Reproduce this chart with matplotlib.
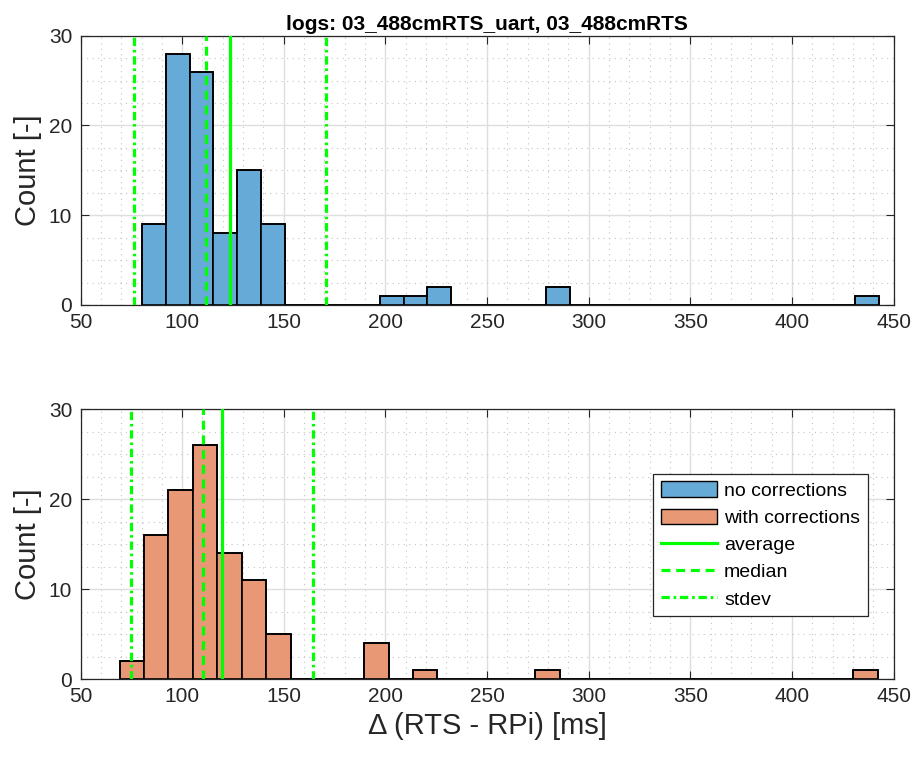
import numpy as np
import matplotlib
matplotlib.use("Agg")
import matplotlib.pyplot as plt
from matplotlib.patches import Patch
from matplotlib.lines import Line2D
from matplotlib.ticker import MultipleLocator

plt.rcParams['font.family'] = ['Liberation Sans', 'DejaVu Sans']

# histogram data (31 bins each)
n_bins = 31
raw_range = (80.3, 442.8)
raw_counts = [9, 28, 26, 8, 15, 9, 0, 0, 0, 0, 1, 1, 2, 0, 0, 0, 0, 2,
              0, 0, 0, 0, 0, 0, 0, 0, 0, 0, 0, 0, 1]
corr_range = (69.2, 442.1)
corr_counts = [2, 16, 21, 26, 14, 11, 5, 0, 0, 0, 4, 0, 1, 0, 0, 0, 0, 1,
               0, 0, 0, 0, 0, 0, 0, 0, 0, 0, 0, 0, 1]

# statistics
raw_mean, raw_median, raw_std = 123.4, 111.6, 47.3
corr_mean, corr_median, corr_std = 119.6, 110.3, 44.8

title = "logs: 03_488cmRTS_uart, 03_488cmRTS"
labels = ["no corrections", "with corrections", "average", "median", "stdev"]

blue = (0.4, 0.668, 0.845)
orange = (0.91, 0.595, 0.459)
green = "#00ff00"
dash = (0, (2.8, 1.8))
dashdot = (0, (2.6, 1.2, 0.8, 1.2))
txt = "#262626"

fig = plt.figure(figsize=(9.17, 7.57), dpi=100)
ax1 = fig.add_axes([0.0878, 0.5971, 0.8868, 0.3557])
ax2 = fig.add_axes([0.0878, 0.1030, 0.8868, 0.3563])


def draw(ax, rng, counts, color, mean, median, std):
    edges = np.linspace(rng[0], rng[1], n_bins + 1)
    ax.bar(edges[:-1], counts, width=np.diff(edges), align='edge',
           color=color, edgecolor='black', linewidth=1.2, zorder=2)
    ax.stairs(counts, edges, color='black', linewidth=1.2, zorder=2)
    ax.axvline(mean, color=green, lw=2.3, zorder=3)
    ax.axvline(median, color=green, lw=2.3, ls=dash, zorder=3)
    ax.axvline(mean - std, color=green, lw=2.3, ls=dashdot, zorder=3)
    ax.axvline(mean + std, color=green, lw=2.3, ls=dashdot, zorder=3)

    ax.set_xlim(50, 450)
    ax.set_ylim(0, 30)
    ax.xaxis.set_major_locator(MultipleLocator(50))
    ax.xaxis.set_minor_locator(MultipleLocator(10))
    ax.yaxis.set_major_locator(MultipleLocator(10))
    ax.yaxis.set_minor_locator(MultipleLocator(2.5))
    ax.grid(which='major', color='#dedede', lw=1.0, zorder=0)
    ax.grid(which='minor', color='#c4c4c4', lw=0.8, ls=(0, (1, 4)), zorder=0)
    ax.set_axisbelow(True)
    ax.tick_params(which='major', direction='in', length=5.5, width=0.8,
                   top=True, right=True, labelsize=15, colors=txt, pad=6)
    ax.tick_params(which='minor', length=0)
    for s in ax.spines.values():
        s.set_color(txt)
        s.set_linewidth(0.9)
    ax.set_ylabel("Count [-]", fontsize=21, color=txt, labelpad=5)


draw(ax1, raw_range, raw_counts, blue, raw_mean, raw_median, raw_std)
draw(ax2, corr_range, corr_counts, orange, corr_mean, corr_median, corr_std)

ax1.set_title(title, fontsize=15, fontweight='bold', color='black', pad=4)
ax2.set_xlabel("Δ (RTS - RPi) [ms]", fontsize=21, color=txt, labelpad=4)

handles = [
    Patch(facecolor=blue, edgecolor='black', linewidth=1.0),
    Patch(facecolor=orange, edgecolor='black', linewidth=1.0),
    Line2D([], [], color=green, lw=2.3),
    Line2D([], [], color=green, lw=2.3, ls=dash),
    Line2D([], [], color=green, lw=2.3, ls=dashdot),
]
leg = ax2.legend(handles, labels, loc='upper left', bbox_to_anchor=(0.704, 0.762),
                 fontsize=14, frameon=True, fancybox=False, framealpha=1,
                 edgecolor=txt, borderpad=0.4, labelspacing=0.45,
                 handlelength=2.9, handleheight=0.85, handletextpad=0.35,
                 borderaxespad=0)
leg.get_frame().set_linewidth(0.9)

fig.savefig("out.png", dpi=100)
